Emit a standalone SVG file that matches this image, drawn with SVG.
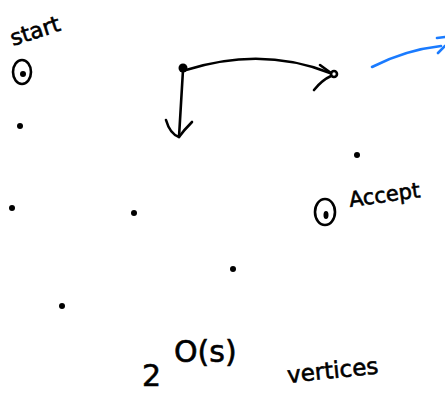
<svg xmlns="http://www.w3.org/2000/svg" width="445" height="395" viewBox="0 0 445 395">
<style>
.ink{fill:none;stroke:#000;stroke-width:2.6;stroke-linecap:round;stroke-linejoin:round}
.blue{fill:none;stroke:#1a7bff;stroke-width:2.6;stroke-linecap:round;stroke-linejoin:round}
.dot{fill:#000}
.t{font-family:"DejaVu Sans","Liberation Sans",sans-serif;fill:#000;stroke:#000;stroke-width:0.6}
</style>
<rect width="445" height="395" fill="#fff"/>
<g id="start">
<text class="t" x="13" y="46" font-size="22" transform="rotate(-18 13 46)">start</text>
<ellipse class="ink" cx="22" cy="72" rx="9" ry="12"/>
<circle class="dot" cx="23" cy="74" r="3"/>
</g>
<g id="v1"><circle class="dot" cx="20" cy="126" r="3"/></g>
<g id="v2"><circle class="dot" cx="12" cy="208" r="3"/></g>
<g id="v3"><circle class="dot" cx="134" cy="213" r="3"/></g>
<g id="v4"><circle class="dot" cx="62" cy="306" r="3"/></g>
<g id="v5"><circle class="dot" cx="233" cy="269" r="3"/></g>
<g id="v6"><circle class="dot" cx="357" cy="155" r="3"/></g>
<g id="hub"><circle class="dot" cx="183" cy="68" r="4.5"/></g>
<g id="accept">
<ellipse class="ink" cx="325" cy="212" rx="10" ry="13"/>
<ellipse class="dot" cx="326" cy="215" rx="2.5" ry="4"/>
<text class="t" x="350" y="207" font-size="21" transform="rotate(-8 350 207)">Accept</text>
</g>
<g id="connectors">
<path class="ink" d="M186 70 Q262 46 330 73"/>
<path class="ink" d="M320 65 L331 73 M314 90 Q322 80 331 76"/>
<circle class="ink" cx="334" cy="74" r="3" stroke-width="2"/>
<path class="ink" d="M183 70 L179 137"/>
<path class="ink" d="M166 120 Q170 134 179 137 M192 122 Q184 130 179 137"/>
<path class="blue" d="M372 67 Q405 50 441 46"/>
<path class="blue" d="M437 38 L445 37 M438 53 L445 46"/>
</g>
<g id="label">
<text class="t" x="142" y="386" font-size="30">2</text>
<text class="t" x="174" y="362" font-size="30">O(s)</text>
<text class="t" x="288" y="383" font-size="23" transform="rotate(-6 288 383)">vertices</text>
</g>
</svg>
